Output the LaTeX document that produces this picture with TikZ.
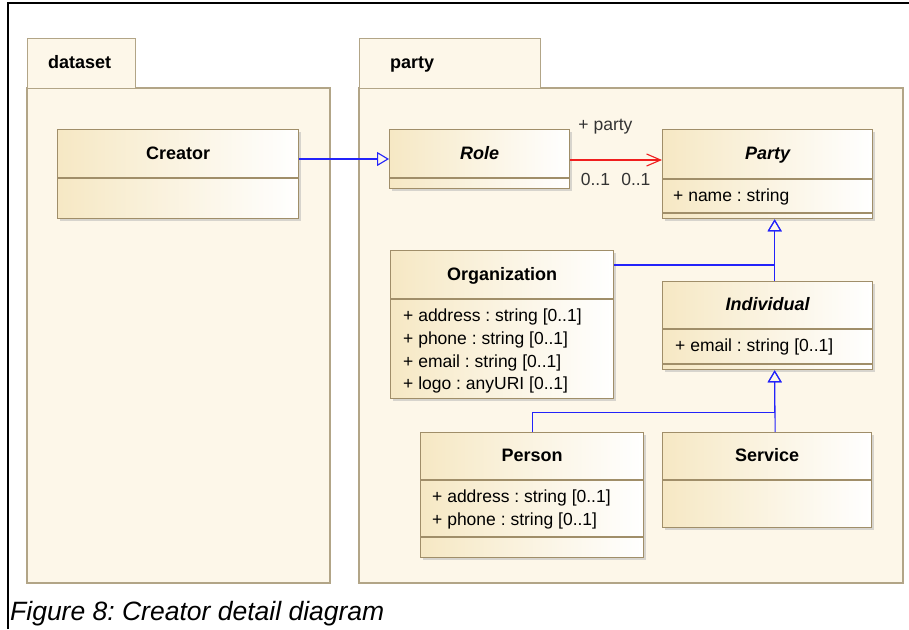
\documentclass[tikz,border=0pt]{standalone}
\usepackage{fontspec}
\setmainfont{Liberation Sans}
\usepackage{tikz}
\usetikzlibrary{arrows.meta,positioning,calc,shadows}
\definecolor{umlpkg}{RGB}{253,247,233}
\definecolor{umlpkgline}{RGB}{178,165,135}
\definecolor{umlline}{RGB}{160,142,105}
\definecolor{umlcream}{RGB}{246,232,196}
\definecolor{umlblue}{RGB}{35,35,250}
\definecolor{umlred}{RGB}{240,30,30}
\frenchspacing

\tikzset{
  pkg/.style={draw=umlpkgline, fill=umlpkg, line width=1.2pt},
  umlclass/.style={draw=umlline, line width=1.3pt, left color=umlcream, right color=white,
    anchor=north west, inner sep=0pt,
    drop shadow={shadow xshift=2pt, shadow yshift=-2pt, fill=black!30, opacity=.5}},
  divider/.style={draw=umlline, line width=1.1pt},
  classname/.style={font=\bfseries\fontsize{18}{22}\selectfont, anchor=base, inner sep=0pt},
  abstractname/.style={classname, font=\bfseries\itshape\fontsize{18}{22}\selectfont},
  attrs/.style={font=\fontsize{17.5}{22.6}\selectfont, anchor=north west, align=left, inner sep=0pt},
  lbl/.style={font=\fontsize{17.5}{21}\selectfont, inner sep=0pt, text=black!80},
  gen/.style={draw=umlblue, line width=1.1pt, -{Triangle[open, length=12pt, width=14pt]}},
  assoc/.style={draw=umlred, line width=1.1pt, -{Straight Barb[length=14pt, width=12pt]}},
}

\begin{document}
\begin{tikzpicture}[x=1pt, y=-1pt]
\useasboundingbox (0,0) rectangle (909,629);
% Frame
\draw[black, line width=1.4pt] (8,629) -- (8,3) -- (909,3);
% Packages
\draw[pkg] (27,88) rectangle (330,583);
\node[pkg, anchor=north west, minimum width=108, minimum height=50, inner sep=0pt] (datasettab) at (27,38) {};
\node[font=\bfseries\fontsize{18}{22}\selectfont, anchor=base west, inner sep=0pt] (datasetlabel)
  at ([xshift=21pt, yshift=-30pt]datasettab.north west) {dataset};
\draw[pkg] (359,88) rectangle (903,583);
\node[pkg, anchor=north west, minimum width=181, minimum height=50, inner sep=0pt] (partytab) at (359,38) {};
\node[font=\bfseries\fontsize{18}{22}\selectfont, anchor=base west, inner sep=0pt] (partylabel)
  at ([xshift=31pt, yshift=-30pt]partytab.north west) {party};

% Creator
\node[umlclass, minimum width=241, minimum height=89] (creator) at (57,129) {};
\node[classname] (creatorname) at ([yshift=-30pt]creator.north) {Creator};
\draw[divider] ([yshift=-49pt]creator.north west) -- ([yshift=-49pt]creator.north east);
% Role
\node[umlclass, minimum width=180, minimum height=59] (role) at (389,129) {};
\node[abstractname] (rolename) at ([yshift=-30pt]role.north) {Role};
\draw[divider] ([yshift=-49pt]role.north west) -- ([yshift=-49pt]role.north east);
% Party
\node[umlclass, minimum width=210, minimum height=89] (party) at (662,129) {};
\node[abstractname] (partyname) at ([yshift=-30pt]party.north) {Party};
\draw[divider] ([yshift=-50pt]party.north west) -- ([yshift=-50pt]party.north east);
\draw[divider] ([yshift=-84pt]party.north west) -- ([yshift=-84pt]party.north east);
\node[attrs] (partyattrs) at ([xshift=11pt, yshift=-60pt]party.north west) {+ name : string};
% Organization
\node[umlclass, minimum width=223, minimum height=148] (organization) at (390,250) {};
\node[classname] (organizationname) at ([yshift=-30pt]organization.north) {Organization};
\draw[divider] ([yshift=-49pt]organization.north west) -- ([yshift=-49pt]organization.north east);
\node[attrs] (organizationattrs) at ([xshift=13pt, yshift=-59pt]organization.north west)
  {+ address : string [0..1]\\+ phone : string [0..1]\\+ email : string [0..1]\\+ logo : anyURI [0..1]};
% Individual
\node[umlclass, minimum width=210, minimum height=88] (individual) at (662,281) {};
\node[abstractname] (individualname) at ([yshift=-29pt]individual.north) {Individual};
\draw[divider] ([yshift=-48pt]individual.north west) -- ([yshift=-48pt]individual.north east);
\draw[divider] ([yshift=-83pt]individual.north west) -- ([yshift=-83pt]individual.north east);
\node[attrs] (individualattrs) at ([xshift=13pt, yshift=-58pt]individual.north west) {+ email : string [0..1]};
% Person
\node[umlclass, minimum width=223, minimum height=125] (person) at (420,432) {};
\node[classname] (personname) at ([yshift=-29pt]person.north) {Person};
\draw[divider] ([yshift=-48pt]person.north west) -- ([yshift=-48pt]person.north east);
\draw[divider] ([yshift=-105pt]person.north west) -- ([yshift=-105pt]person.north east);
\node[attrs] (personattrs) at ([xshift=12pt, yshift=-58pt]person.north west)
  {+ address : string [0..1]\\+ phone : string [0..1]};
% Service
\node[umlclass, minimum width=209, minimum height=95] (service) at (662,432) {};
\node[classname] (servicename) at ([yshift=-29pt]service.north) {Service};
\draw[divider] ([yshift=-48pt]service.north west) -- ([yshift=-48pt]service.north east);

% Connectors
\draw[gen] ([yshift=-30pt]creator.north east) -- ([yshift=-30pt]role.north west);
\draw[assoc] ([yshift=-31pt]role.north east) -- ([yshift=-31pt]party.north west)
  node[lbl, pos=0, anchor=north west, xshift=10pt, yshift=-13pt] (rolemult) {0..1}
  node[lbl, pos=1, anchor=north east, xshift=-11pt, yshift=-13pt] (partymult) {0..1}
  node[lbl, pos=1, anchor=south east, xshift=-29pt, yshift=25pt] (partyrole) {+ party};
\draw[gen] ([yshift=-15pt]organization.north east) -| ([xshift=7pt]party.south);
\draw[gen] ([xshift=7pt]individual.north) -- ([xshift=7pt]party.south);
\draw[gen] (person.north) |- ([xshift=7pt, yshift=-42pt]individual.south) -- ([xshift=7pt]individual.south);
\draw[gen] ([xshift=8pt]service.north) -- ([xshift=7pt]individual.south);

% Caption
\node[font=\itshape\fontsize{26.5}{31}\selectfont, anchor=base west, inner sep=0pt] (caption) at (10,620)
  {Figure 8: Creator detail diagram};
\end{tikzpicture}
\end{document}
